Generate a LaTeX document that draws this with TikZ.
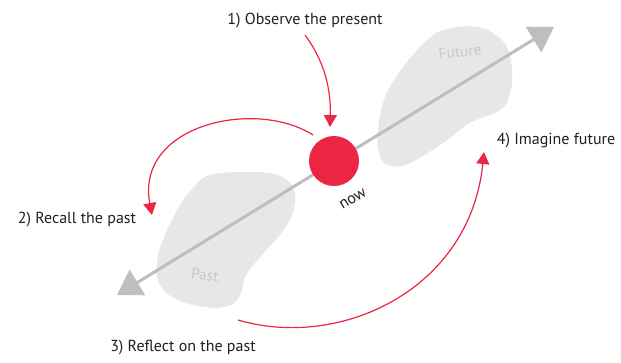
\documentclass[tikz,border=0pt]{standalone}
\usepackage{fontspec}
\setmainfont{PT Sans}
\usepackage{xcolor}
\usetikzlibrary{arrows.meta,positioning,calc}

\definecolor{nowred}{HTML}{EC2545}
\definecolor{axisgray}{HTML}{BCBEC0}
\definecolor{blobgray}{HTML}{E6E7E8}
\definecolor{blobtext}{HTML}{C7C8CA}
\definecolor{inkblack}{HTML}{231F20}

\begin{document}
\begin{tikzpicture}[x=0.75pt, y=-0.75pt,
    every node/.style={font=\fontsize{12pt}{14pt}\selectfont, text=inkblack},
    step label/.style={inner sep=0pt},
    blob/.style={fill=blobgray, draw=none},
    blob label/.style={text=blobtext, inner sep=0pt, font=\fontsize{11.5pt}{13pt}\selectfont},
    timeline/.style={line width=2.25pt, draw=axisgray,
        {Triangle[length=18pt, width=22pt, fill=axisgray]}-{Triangle[length=18pt, width=22pt, fill=axisgray]}},
    thought/.style={draw=nowred, line width=0.9pt, -{Triangle[length=9pt, width=9.75pt, fill=nowred]}}]
    \useasboundingbox (0,0) rectangle (621,362);

    % Past and Future regions
    \fill[blob] plot[smooth cycle, tension=0.7] coordinates {(453,28) (477,27) (493,33) (507,47) (512,70) (510,93) (500,110) (470,123) (443,143) (410,163) (393,166) (381,158) (378,130) (390,87) (427,40)};
    \fill[blob] plot[smooth cycle, tension=0.7] coordinates {(210,175) (250,172) (280,176) (294,190) (293,212) (282,232) (262,255) (246,275) (240,295) (228,306) (205,307) (178,300) (160,285) (157,262) (165,235) (180,205) (193,188)};
    \node[blob label, rotate=7] (future) at (460,52) {Future};
    \node[blob label, rotate=-8] (past) at (205,275) {Past};

    % Time axis
    \coordinate (pastend) at (117,295);
    \coordinate (futureend) at (554,27);
    \draw[timeline] (pastend) -- (futureend);

    % The present moment
    \node[circle, fill=nowred, minimum size=37.5pt, inner sep=0pt] (nowdot) at (334,161) {};
    \node[rotate=31, inner sep=0pt] (now) at (353,199) {now};

    % Steps
    \node[step label] (observe) at (305,21) {1) Observe the present};
    \node[step label] (recall) at (77,220) {2) Recall the past};
    \node[step label] (reflect) at (183,348) {3) Reflect on the past};
    \node[step label] (imagine) at (556,141) {4) Imagine future};

    \coordinate (observetip) at (330,127);
    \coordinate (recallstart) at (313,135);
    \coordinate (recalltip) at (152,215);
    \coordinate (reflectstart) at (238,320);
    \coordinate (imaginetip) at (484,152);

    \draw[thought] (305,35) .. controls (325,62) and (331,90) .. (observetip);
    \draw[thought] (recallstart) .. controls (255,98) and (135,125) .. (recalltip);
    \draw[thought] (reflectstart) .. controls (340,350) and (470,290) .. (imaginetip);
\end{tikzpicture}
\end{document}
